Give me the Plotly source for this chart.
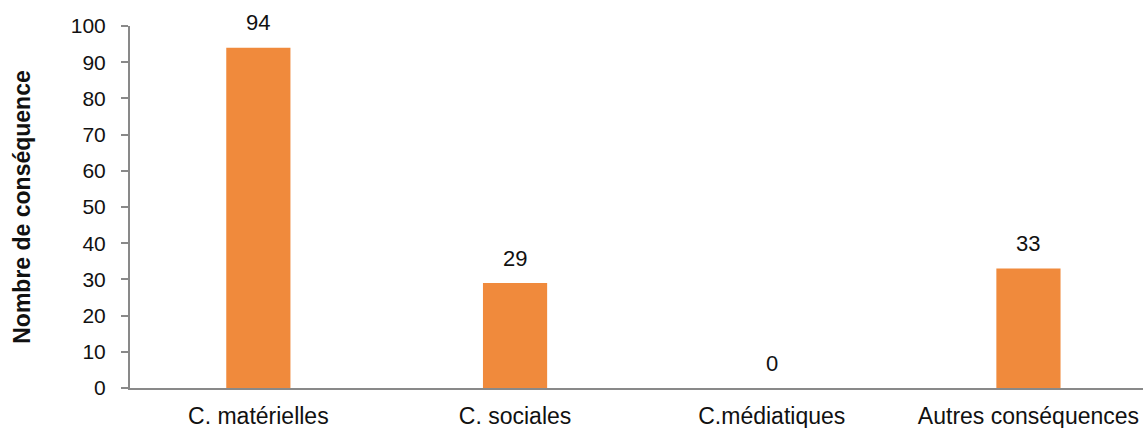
import plotly.graph_objects as go

categories = ["C. matérielles", "C. sociales", "C.médiatiques", "Autres conséquences"]
values = [94, 29, 0, 33]
y_ticks = [0, 10, 20, 30, 40, 50, 60, 70, 80, 90, 100]

W, H = 1143, 428
ml, mr, mt, mb = 130, 0, 26, 40
spacing = 256.7
plot_w = W - ml - mr
x_end = -0.5 + plot_w / spacing

font = "Liberation Sans, Arial, Helvetica, sans-serif"

fig = go.Figure(go.Bar(
    x=categories, y=values,
    marker=dict(color="#F08A3C", line=dict(width=0)),
    width=0.25,
    cliponaxis=False,
))

for c, v in zip(categories, values):
    fig.add_annotation(
        x=c, y=v, text=str(v), showarrow=False,
        yanchor="middle", yshift=25,
        font=dict(size=22, color="#111111", family=font),
    )

fig.update_layout(
    width=W, height=H,
    margin=dict(l=ml, r=mr, t=mt, b=mb, pad=0, autoexpand=False),
    paper_bgcolor="white", plot_bgcolor="white",
    showlegend=False,
    font=dict(family=font, size=21, color="#111111"),
    xaxis=dict(
        range=[-0.5, x_end], showgrid=False, zeroline=False,
        showline=True, linecolor="#898989", linewidth=2,
        ticks="", tickfont=dict(size=23), ticklabelstandoff=6,
        fixedrange=True, automargin=False,
    ),
    yaxis=dict(
        range=[0, 100], tickvals=y_ticks, showgrid=False, zeroline=False,
        showline=True, linecolor="#898989", linewidth=2,
        ticks="outside", ticklen=7, tickcolor="#898989", tickwidth=2,
        tickfont=dict(size=21), ticklabelstandoff=11, automargin=False,
        title=dict(text="<b>Nombre de conséquence</b>", font=dict(size=23), standoff=34),
    ),
)

fig.write_html("out.html")
